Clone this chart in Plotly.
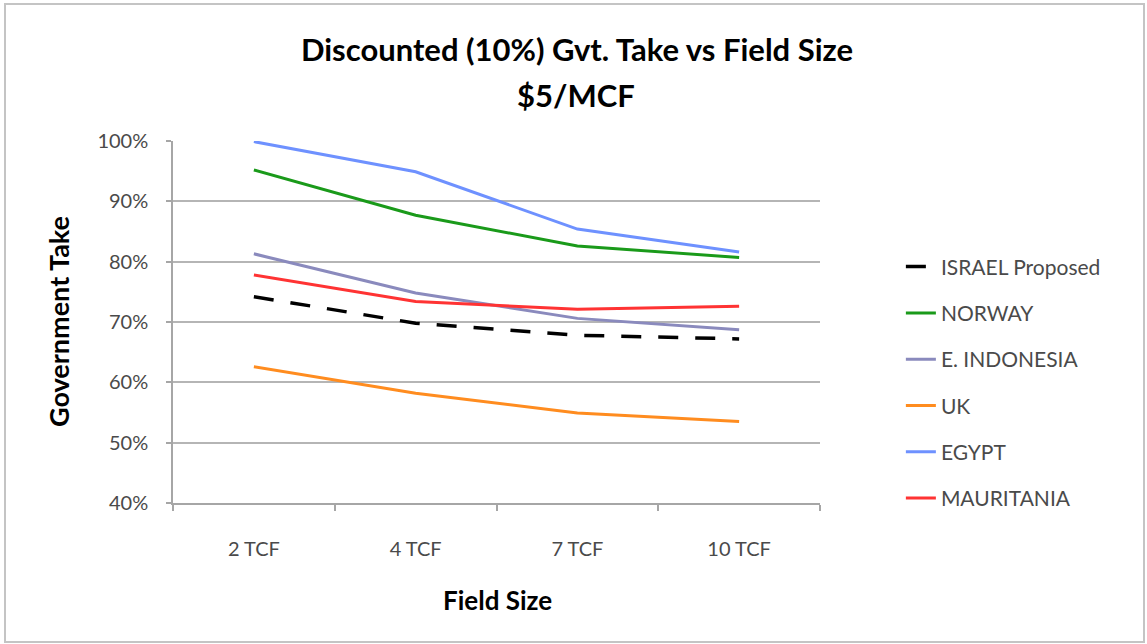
import plotly.graph_objects as go

categories = ["2 TCF", "4 TCF", "7 TCF", "10 TCF"]
israel = [0.742, 0.698, 0.678, 0.672]
norway = [0.952, 0.877, 0.826, 0.807]
e_indonesia = [0.813, 0.748, 0.706, 0.687]
uk = [0.626, 0.582, 0.549, 0.535]
egypt = [0.999, 0.949, 0.854, 0.816]
mauritania = [0.778, 0.734, 0.721, 0.726]

series = [
    ("ISRAEL Proposed", israel, "#000000", "20px,17px", 3.5),
    ("NORWAY", norway, "#1a9a1a", "solid", 3),
    ("E. INDONESIA", e_indonesia, "#8a8abd", "solid", 3),
    ("UK", uk, "#ff8c1f", "solid", 3),
    ("EGYPT", egypt, "#6e91ff", "solid", 3),
    ("MAURITANIA", mauritania, "#ff3333", "solid", 3),
]

FONT = "Lato, 'Open Sans', sans-serif"

fig = go.Figure()
for i, (name, vals, color, dash, w) in enumerate(series):
    fig.add_trace(go.Scatter(
        x=categories, y=vals, name=name, mode="lines",
        line=dict(color=color, width=w, dash=dash),
        legendgroup=f"g{i}",
    ))

fig.update_layout(
    width=1147, height=644,
    margin=dict(l=173, r=327, t=141, b=141),
    paper_bgcolor="white", plot_bgcolor="white",
    font=dict(family=FONT, color="#4a4a4a"),
    title=dict(text="<b>Discounted (10%) Gvt. Take vs Field Size</b>",
               x=(577 - 173) / 647, xref="paper", xanchor="center",
               y=1 - 50 / 644, yanchor="middle",
               font=dict(size=31, color="#000000", family=FONT)),
    showlegend=True,
    legend=dict(x=1.125, xanchor="left", y=0.333, yanchor="middle",
                font=dict(size=21, color="#4a4a4a", family=FONT),
                tracegroupgap=16, bgcolor="rgba(0,0,0,0)"),
    xaxis=dict(
        type="category", range=[-0.5, 3.5], showgrid=False,
        showline=True, linecolor="#a6a6a6", linewidth=1.5,
        ticks="outside", ticklen=6, tickcolor="#a6a6a6", tickwidth=1.5,
        tickson="boundaries", ticklabelstandoff=27,
        tickfont=dict(size=20, color="#4a4a4a", family=FONT),
    ),
    yaxis=dict(
        range=[0.4, 1.0], dtick=0.1, tickformat=".0%",
        showgrid=True, gridcolor="#b5b5b5", gridwidth=1.5,
        showline=True, linecolor="#a6a6a6", linewidth=1.5,
        ticks="outside", ticklen=5, tickcolor="#a6a6a6", tickwidth=1.5,
        ticklabelstandoff=14, zeroline=False,
        tickfont=dict(size=20, color="#4a4a4a", family=FONT),
    ),
    annotations=[
        dict(text="<b>$5/MCF</b>", xref="paper", yref="paper",
             x=(576 - 173) / 647, y=(503 - 95) / 362, xanchor="center", yanchor="middle",
             showarrow=False, font=dict(size=31, color="#000000", family=FONT)),
        dict(text="<b>Field Size</b>", xref="paper", yref="paper",
             x=(497 - 173) / 647, y=(503 - 600) / 362, xanchor="center", yanchor="middle",
             showarrow=False, font=dict(size=26, color="#000000", family=FONT)),
        dict(text="<b>Government Take</b>", xref="paper", yref="paper",
             x=(58 - 173) / 647, y=(503 - 322) / 362, xanchor="center", yanchor="middle",
             textangle=-90, showarrow=False,
             font=dict(size=27, color="#000000", family=FONT)),
    ],
    shapes=[
        dict(type="rect", xref="paper", yref="paper",
             x0=(5 - 173) / 647, x1=(1144 - 173) / 647,
             y0=(503 - 642) / 362, y1=(503 - 4) / 362,
             line=dict(color="#c4c4c4", width=2), fillcolor="rgba(0,0,0,0)", layer="below"),
    ],
)

fig.write_html("out.html", config={"displayModeBar": False},
               post_script="document.body.style.margin='0';")
